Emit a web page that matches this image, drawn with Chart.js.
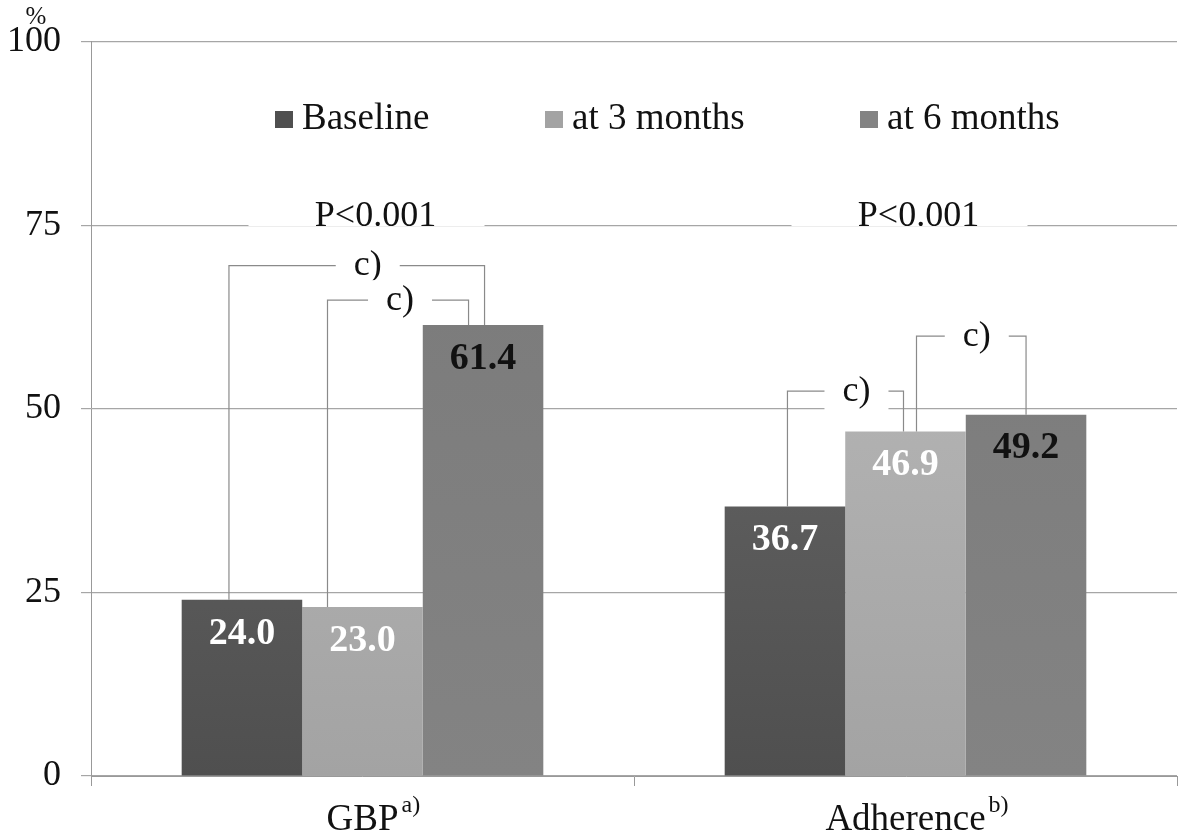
<!DOCTYPE html>
<html>
<head>
<meta charset="utf-8">
<script src="https://cdn.jsdelivr.net/npm/chart.js@4/dist/chart.umd.min.js"></script>
<style>
  html, body { margin: 0; background: #fff; }
  #wrap { width: 1181px; height: 836px; }
</style>
</head>
<body>
<div id="wrap"><canvas id="chart"></canvas></div>
<script>
const categories = ["GBP", "Adherence"];
const categoryNotes = ["a)", "b)"];
const seriesNames = ["Baseline", "at 3 months", "at 6 months"];
const baseline = [24.0, 36.7];
const month3 = [23.0, 46.9];
const month6 = [61.4, 49.2];
const yTicks = [0, 25, 50, 75, 100];
const pLabels = ["P<0.001", "P<0.001"];
const pLevel = 75;

// significance brackets: category, from series, to series, level in %
const brackets = [
  { cat: 0, from: 0, to: 2, level: 69.5 },
  { cat: 0, from: 1, to: 2, level: 64.8 },
  { cat: 1, from: 0, to: 1, level: 52.4 },
  { cat: 1, from: 1, to: 2, level: 59.9 }
];
const bracketLabel = "c)";

// drawing tweaks (pixels) for the brackets: left leg, right leg, label shift
const bracketStyle = [
  { dl: -13, dr: 1.5, dt: 11 },
  { dl: -35, dr: -14.5, dt: 2 },
  { dl: 2.5, dr: -2, dt: 11 },
  { dl: 11, dr: 0, dt: 5.5 }
];

const FONT = "'Liberation Serif', 'Times New Roman', serif";
const colors = [
  ["#686868", "#4f4f4f"],
  ["#b8b8b8", "#a3a3a3"],
  ["#7b7b7b", "#838383"]
];
const labelColors = ["#ffffff", "#ffffff", "#111111"];
const legendX = [275, 545, 860];

function grad(i) {
  return ctx => {
    const ca = ctx.chart.chartArea;
    if (!ca) return colors[i][0];
    const g = ctx.chart.ctx.createLinearGradient(0, ca.top + 200, 0, ca.bottom);
    g.addColorStop(0, colors[i][0]);
    g.addColorStop(1, colors[i][1]);
    return g;
  };
}

const extras = {
  id: "extras",
  afterDatasetsDraw(chart) {
    const c = chart.ctx;
    const y = chart.scales.y;
    const x = chart.scales.x;
    c.save();

    // value labels
    c.font = "bold 38px " + FONT;
    c.textAlign = "center";
    c.textBaseline = "middle";
    chart.data.datasets.forEach((ds, i) => {
      chart.getDatasetMeta(i).data.forEach((bar, j) => {
        c.fillStyle = labelColors[i];
        c.fillText(ds.data[j].toFixed(1), bar.x, bar.y + 34);
      });
    });

    // P labels over the 75 gridline
    c.font = "36px " + FONT;
    pLabels.forEach((t, j) => {
      const px = x.getPixelForValue(j) + 13;
      const py = y.getPixelForValue(pLevel) - 9;
      c.fillStyle = "#fff";
      c.fillRect(px - 127, py - 20, 236, 30);
      c.fillStyle = "#111";
      c.fillText(t, px, py);
    });

    // brackets
    c.strokeStyle = "#8a8a8a";
    c.lineWidth = 1.2;
    c.font = "36px " + FONT;
    brackets.forEach((b, k) => {
      const s = bracketStyle[k];
      const a = chart.getDatasetMeta(b.from).data[b.cat];
      const d = chart.getDatasetMeta(b.to).data[b.cat];
      const xl = a.x + s.dl, xr = d.x + s.dr;
      const ly = y.getPixelForValue(b.level);
      c.beginPath();
      c.moveTo(xl, a.y);
      c.lineTo(xl, ly);
      c.lineTo(xr, ly);
      c.lineTo(xr, d.y);
      c.stroke();
      const tx = (xl + xr) / 2 + s.dt;
      c.fillStyle = "#fff";
      c.fillRect(tx - 32, ly - 20, 64, 40);
      c.fillStyle = "#111";
      c.fillText(bracketLabel, tx, ly);
    });

    // legend
    c.textAlign = "left";
    c.font = "37px " + FONT;
    seriesNames.forEach((n, i) => {
      c.fillStyle = colors[i][1];
      c.fillRect(legendX[i], 111, 18, 17);
      c.fillStyle = "#111";
      c.fillText(n, legendX[i] + 27, 119);
    });

    // category labels with superscript notes
    categories.forEach((n, j) => {
      const cx = x.getPixelForValue(j);
      c.font = "37px " + FONT;
      c.textAlign = "center";
      c.textBaseline = "alphabetic";
      c.fillStyle = "#111";
      c.fillText(n, cx, 830);
      const w = c.measureText(n).width;
      c.font = "24px " + FONT;
      c.textAlign = "left";
      c.fillText(categoryNotes[j], cx + w / 2 + 3, 812);
    });

    // unit label
    c.font = "25px " + FONT;
    c.textAlign = "center";
    c.fillText("%", 36, 24);
    c.restore();
  }
};

new Chart(document.getElementById("chart"), {
  type: "bar",
  data: {
    labels: categories,
    datasets: [
      { label: seriesNames[0], data: baseline, backgroundColor: grad(0) },
      { label: seriesNames[1], data: month3, backgroundColor: grad(1) },
      { label: seriesNames[2], data: month6, backgroundColor: grad(2) }
    ]
  },
  options: {
    responsive: true,
    maintainAspectRatio: false,
    animation: false,
    layout: { padding: { top: 41, right: 4, left: 0, bottom: 0 } },
    datasets: { bar: { categoryPercentage: 0.666, barPercentage: 1.0 } },
    plugins: { legend: { display: false }, tooltip: { enabled: false } },
    scales: {
      x: {
        ticks: { display: false },
        grid: { drawOnChartArea: false, drawTicks: true, tickLength: 10, color: "#999" },
        border: { color: "#999" },
        afterFit: s => { s.height = 60; }
      },
      y: {
        min: 0,
        max: 100,
        afterBuildTicks: s => { s.ticks = yTicks.map(v => ({ value: v })); },
        ticks: { color: "#111", font: { family: FONT, size: 36 }, padding: 20 },
        grid: { color: "#a6a6a6", tickLength: 10, lineWidth: 1.2 },
        border: { color: "#999" },
        afterFit: s => { s.width = 91; }
      }
    }
  },
  plugins: [extras]
});
</script>
</body>
</html>
